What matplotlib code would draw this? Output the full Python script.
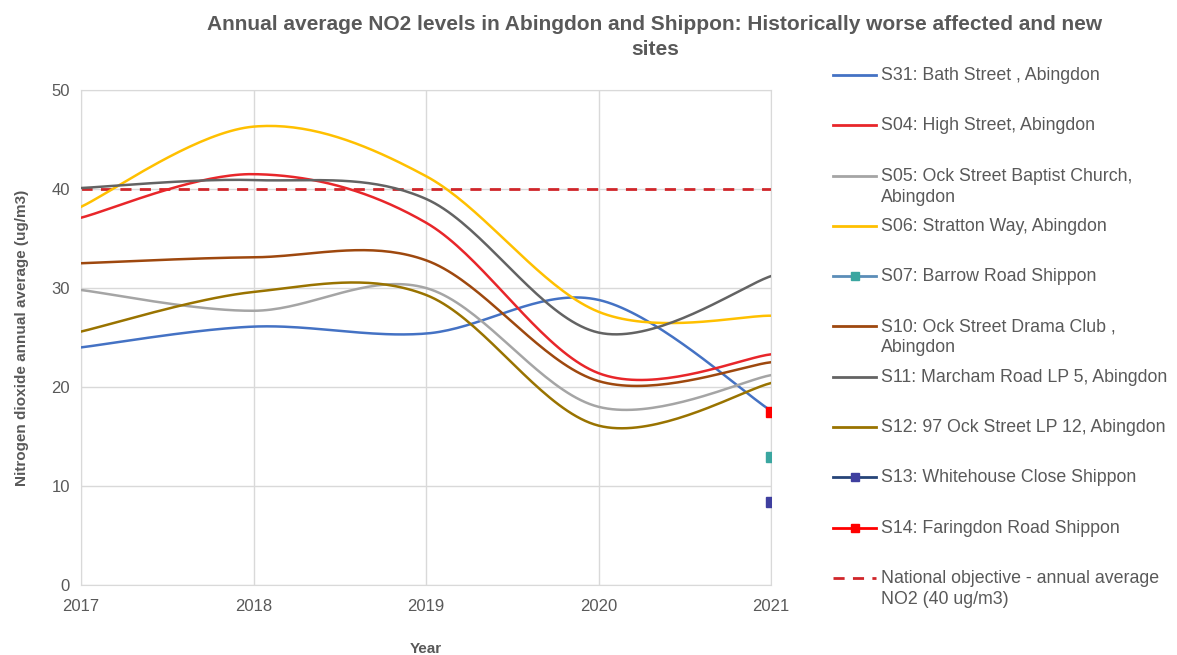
import numpy as np
import matplotlib
matplotlib.use('Agg')
import matplotlib.pyplot as plt
from matplotlib.lines import Line2D

plt.rcParams['font.family'] = ['Liberation Sans', 'DejaVu Sans']

years = [2017, 2018, 2019, 2020, 2021]
nan = np.nan

s31 = [24.0, 26.1, 25.4, 28.8, 17.6]
s04 = [37.1, 41.5, 36.6, 21.4, 23.3]
s05 = [29.8, 27.7, 30.0, 18.0, 21.2]
s06 = [38.2, 46.3, 41.3, 27.6, 27.2]
s07 = [nan, nan, nan, nan, 12.9]
s10 = [32.5, 33.1, 32.8, 20.6, 22.5]
s11 = [40.1, 40.9, 39.0, 25.5, 31.2]
s12 = [25.6, 29.6, 29.3, 16.1, 20.4]
s13 = [nan, nan, nan, nan, 8.35]
s14 = [nan, nan, nan, nan, 17.5]
objective = 40

labels = [
    'S31: Bath Street , Abingdon',
    'S04: High Street, Abingdon',
    'S05: Ock Street Baptist Church,\nAbingdon',
    'S06: Stratton Way, Abingdon',
    'S07: Barrow Road Shippon',
    'S10: Ock Street Drama Club ,\nAbingdon',
    'S11: Marcham Road LP 5, Abingdon',
    'S12: 97 Ock Street LP 12, Abingdon',
    'S13: Whitehouse Close Shippon',
    'S14: Faringdon Road Shippon',
    'National objective - annual average\nNO2 (40 ug/m3)',
]
series = [s31, s04, s05, s06, s07, s10, s11, s12, s13, s14]
line_colors = ['#4472C4', '#E8262A', '#A5A5A5', '#FFC000', '#5B8DB8',
               '#9E480E', '#636363', '#997300', '#264478', '#FF0000']
marker_colors = [None, None, None, None, '#3AA6A0',
                 None, None, None, '#3F3F9F', '#FF0000']
obj_color = '#D0262A'
text_color = '#595959'
grid_color = '#D9D9D9'


def smooth(xs, ys, n=40):
    # Excel-style smoothed line (Bezier through the points)
    p = np.column_stack([xs, ys]).astype(float)
    out = []
    for i in range(len(p) - 1):
        p0 = p[i - 1] if i > 0 else p[i]
        p1, p2 = p[i], p[i + 1]
        p3 = p[i + 2] if i + 2 < len(p) else p[i + 1]
        c1 = p1 + (p2 - p0) / 6
        c2 = p2 - (p3 - p1) / 6
        t = np.linspace(0, 1, n)[:, None]
        seg = ((1 - t) ** 3) * p1 + 3 * ((1 - t) ** 2) * t * c1 + 3 * (1 - t) * t ** 2 * c2 + t ** 3 * p2
        out.append(seg if i == 0 else seg[1:])
    out = np.vstack(out)
    return out[:, 0], out[:, 1]


fig = plt.figure(figsize=(11.77, 6.55), dpi=100)
ax = fig.add_axes([81 / 1177, 1 - 585 / 655, 690 / 1177, 495 / 655])

for ys, lc, mc in zip(series, line_colors, marker_colors):
    ys = np.array(ys, dtype=float)
    ok = ~np.isnan(ys)
    xs = np.array(years)[ok]
    if ok.sum() > 1:
        sx, sy = smooth(xs, ys[ok])
        ax.plot(sx, sy, color=lc, lw=1.8, zorder=3)
    else:
        ax.plot(xs, ys[ok], linestyle='none', marker='s', ms=7,
                mfc=mc, mec=mc, zorder=4)

ax.plot([years[0], years[-1]], [objective, objective], color=obj_color,
        lw=2, ls=(0, (4, 3)), zorder=2)

ax.set_xlim(2017, 2021)
ax.set_ylim(0, 50)
ax.set_xticks(years)
ax.set_yticks([0, 10, 20, 30, 40, 50])
ax.grid(True, color=grid_color, lw=1)
ax.set_axisbelow(True)
for sp in ax.spines.values():
    sp.set_color(grid_color)
ax.tick_params(length=0, labelsize=12, colors=text_color, pad=8)
ax.tick_params(axis='x', pad=10)
ax.set_ylabel('Nitrogen dioxide annual average (ug/m3)', fontsize=11,
              fontweight='bold', color=text_color, labelpad=16)
ax.set_xlabel('Year', fontsize=11, fontweight='bold', color=text_color, labelpad=20)

fig.text(655 / 1177, 1 - 37 / 655,
         'Annual average NO2 levels in Abingdon and Shippon: Historically worse affected and new\nsites',
         ha='center', va='center', fontsize=15, fontweight='bold',
         color=text_color, linespacing=1.4)

# legend drawn by hand to keep the even spacing of the original
handles = list(zip(line_colors, marker_colors)) + [(obj_color, None)]
for k, (lab, (lc, mc)) in enumerate(zip(labels, handles)):
    yy = 1 - (75 + k * 50.3) / 655
    ls = (0, (4, 3)) if k == len(labels) - 1 else '-'
    fig.add_artist(Line2D([833 / 1177, 876 / 1177], [yy, yy], color=lc,
                          lw=2, ls=ls, transform=fig.transFigure))
    if mc is not None:
        fig.add_artist(Line2D([854.5 / 1177], [yy], marker='s', ms=6,
                              mfc=mc, mec=mc, transform=fig.transFigure))
    fig.text(881 / 1177, yy + 8 / 655, lab, ha='left', va='top', fontsize=12.8,
             color=text_color, linespacing=1.3)

fig.savefig('out.png', dpi=100)
